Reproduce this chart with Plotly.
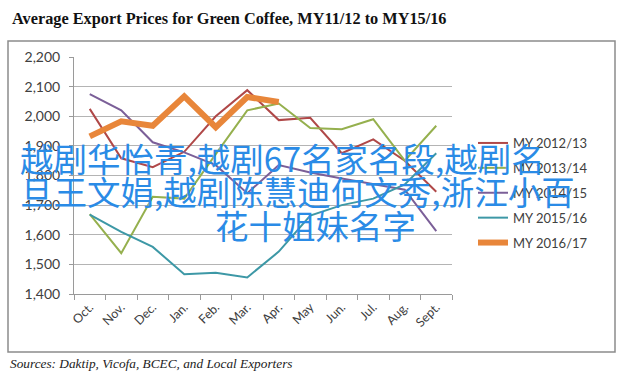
import plotly.graph_objects as go

months = ["Oct.", "Nov.", "Dec.", "Jan.", "Feb.", "Mar.", "Apr.", "May", "Jun.", "Jul.", "Aug.", "Sept."]
my_2012_13 = [2025, 1858, 1828, 1880, 2000, 2088, 1987, 1995, 1875, 1922, 1850, 1745]
my_2013_14 = [1670, 1538, 1728, 1722, 1872, 2020, 2043, 1960, 1956, 1990, 1850, 1968]
my_2014_15 = [2075, 2020, 1912, 1878, 1835, 1740, 1835, 1810, 1790, 1772, 1752, 1612]
my_2015_16 = [1668, 1610, 1559, 1467, 1472, 1456, 1543, 1665, 1700, 1722, 1770, 1875]
my_2016_17 = [1932, 1983, 1968, 2067, 1963, 2065, 2048, None, None, None, None, None]
series_names = ["MY 2012/13", "MY 2013/14", "MY 2014/15", "MY 2015/16", "MY 2016/17"]
y_ticks = [1400, 1500, 1600, 1700, 1800, 1900, 2000, 2100, 2200]

W, H = 628, 372
L, R, T, B = 74, 452, 57, 294

def px(x):
    return (x - L) / (R - L)

def py(y):
    return (B - y) / (B - T)

colors = ["#b04848", "#95b04e", "#7b5f98", "#3d98a6", "#e8863a"]
widths = [2, 2, 2, 2, 6]
data = [my_2012_13, my_2013_14, my_2014_15, my_2015_16, my_2016_17]

fig = go.Figure()
for name, vals, c, w in zip(series_names, data, colors, widths):
    fig.add_trace(go.Scatter(
        x=months, y=vals, mode="lines", name=name, legendgroup=name,
        line=dict(color=c, width=w), connectgaps=False,
    ))

fig.update_layout(
    width=W, height=H,
    margin=dict(l=L, r=W - R, t=T, b=H - B),
    paper_bgcolor="white", plot_bgcolor="white",
    font=dict(family="Lato, sans-serif", color="#404040"),
    showlegend=True,
    legend=dict(
        x=px(473), y=py(128), xanchor="left", yanchor="top",
        font=dict(size=13, family="Lato, sans-serif", color="#404040"),
        bgcolor="rgba(0,0,0,0)", tracegroupgap=5, itemwidth=30,
    ),
    xaxis=dict(
        type="category", tickson="boundaries", ticks="outside", ticklen=5,
        tickcolor="#9a9a9a", showline=True, linecolor="#9a9a9a", linewidth=1,
        showgrid=False, tickangle=-45, tickfont=dict(size=12.5, color="#404040"),
        range=[-0.5, 11.5], automargin=False,
    ),
    yaxis=dict(
        range=[1400, 2200], tickvals=y_ticks, tickformat=",d",
        ticks="outside", ticklen=4, tickcolor="#9a9a9a",
        showline=True, linecolor="#9a9a9a", linewidth=1,
        showgrid=True, gridcolor="#b4b4b4", gridwidth=1,
        tickfont=dict(size=14, color="#404040"), ticklabelstandoff=6,
        zeroline=False, automargin=False,
    ),
)

# outer frame
fig.add_shape(type="rect", xref="paper", yref="paper",
              x0=px(8), x1=px(615), y0=py(352), y1=py(41),
              line=dict(color="#8c8c8c", width=1.5), layer="below")

# title
fig.add_annotation(xref="paper", yref="paper", x=px(10), y=py(18),
                   xanchor="left", yanchor="middle", showarrow=False,
                   text="<b>Average Export Prices for Green Coffee, MY11/12 to MY15/16</b>",
                   font=dict(family="Liberation Serif, Times New Roman, serif", size=16.3, color="#111111"))
# source
fig.add_annotation(xref="paper", yref="paper", x=px(8), y=py(363),
                   xanchor="left", yanchor="middle", showarrow=False,
                   text="Sources: Daktip, Vicofa, BCEC, and Local Exporters",
                   font=dict(family="Liberation Serif, Times New Roman, serif", size=13.3,
                             color="#222222", style="italic"))

# overlay text
blue = "#2a8be6"
lines = [
    ("越剧华怡青,越剧67名家名段,越剧名", 18, 157, "left"),
    ("旦王文娟,越剧陈慧迪何文秀,浙江小百", 18, 190, "left"),
    ("花十姐妹名字", 315, 224, "center"),
]
for txt, x, y, anc in lines:
    fig.add_annotation(xref="paper", yref="paper", x=px(x), y=py(y),
                       xanchor=anc, yanchor="middle", showarrow=False, text=txt,
                       font=dict(family="Noto Sans CJK SC, sans-serif", size=33.5, color=blue))

fig.write_html("out.html", config={"displayModeBar": False},
               post_script="document.body.style.margin='0';document.body.style.padding='0';")
